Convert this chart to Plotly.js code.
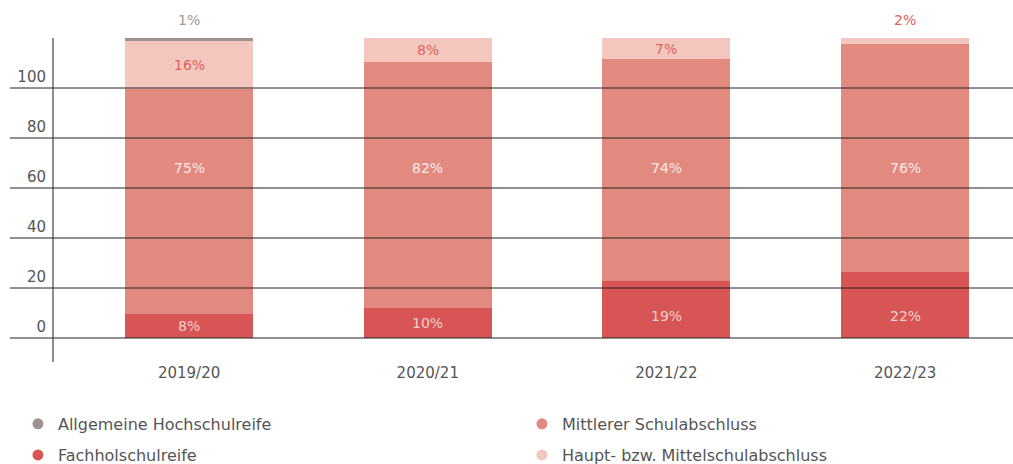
<!DOCTYPE html>
<html>
<head>
<meta charset="utf-8">
<script src="https://cdn.plot.ly/plotly-3.0.1.min.js"></script>
<style>html,body{margin:0;padding:0;background:#fff;}#chart{width:1013px;height:464px;}</style>
</head>
<body>
<div id="chart"></div>
<script>
// ---- data ----
const years = ["2019/20", "2020/21", "2021/22", "2022/23"];
const fachhol   = [9.6, 12.0, 22.8, 26.4];
const mittlerer = [90.0, 98.4, 88.8, 91.2];
const haupt     = [19.2, 9.6, 8.4, 2.4];
const allgemein = [1.2, 0, 0, 0];
const fachholPct   = ["8%", "10%", "19%", "22%"];
const mittlererPct = ["75%", "82%", "74%", "76%"];
const hauptPct     = ["16%", "8%", "7%", "2%"];
const allgemeinPct = ["1%", "", "", ""];
const yTicks = [0, 20, 40, 60, 80, 100];

// ---- styles ----
const FONT = "DejaVu Sans, sans-serif";
const TXT = "#555555";
const C = {
  allg: "#a0938f",
  mitt: "#e38a80",
  fach: "#d75555",
  haupt: "#f3c7be"
};

const barBase = {type: "bar", x: years, hoverinfo: "skip", showlegend: false, marker: {line: {width: 0}}};
const traces = [
  Object.assign({}, barBase, {name: "Fachholschulreife", y: fachhol, marker: {color: C.fach}}),
  Object.assign({}, barBase, {name: "Mittlerer Schulabschluss", y: mittlerer, marker: {color: C.mitt}}),
  Object.assign({}, barBase, {name: "Haupt- bzw. Mittelschulabschluss", y: haupt, marker: {color: C.haupt}}),
  Object.assign({}, barBase, {name: "Allgemeine Hochschulreife", y: allgemein, marker: {color: C.allg}})
];

// legend-only traces (circle markers)
function legendTrace(name, color, legend) {
  return {type: "scatter", mode: "markers", x: [null], y: [null], name: name,
          marker: {color: color, size: 11, symbol: "circle"}, legend: legend, showlegend: true, hoverinfo: "skip"};
}
traces.push(legendTrace("Allgemeine Hochschulreife", C.allg, "legend"));
traces.push(legendTrace("Mittlerer Schulabschluss", C.mitt, "legend"));
traces.push(legendTrace("Fachholschulreife", C.fach, "legend2"));
traces.push(legendTrace("Haupt- bzw. Mittelschulabschluss", C.haupt, "legend2"));

// ---- value labels ----
const annotations = [];
function lab(x, y, text, color, yshift) {
  annotations.push({xref: "x", yref: "y", x: x, y: y, text: text, showarrow: false,
    yshift: yshift || 0, font: {family: FONT, size: 14, color: color}});
}
years.forEach((yr, i) => {
  const f = fachhol[i], m = mittlerer[i], h = haupt[i], a = allgemein[i];
  const total = f + m + h + a;
  lab(yr, Math.min(f / 2, 8.8), fachholPct[i], "#f6d0c9");
  lab(yr, 68.2, mittlererPct[i], "#fbebe7");
  if (h >= 4) lab(yr, f + m + h / 2, hauptPct[i], "#e0625c");
  else lab(yr, total, hauptPct[i], "#e0625c", 18);
  if (a > 0) lab(yr, total, allgemeinPct[i], "#a39a97", 18);
});

// ---- grid lines drawn over the bars, extending left of the axis ----
const shapes = yTicks.map(v => ({type: "line", xref: "paper", yref: "y", x0: -0.0459, x1: 1, y0: v, y1: v,
  line: {color: "#222222", width: 1}, layer: "above"}));

const legendBase = {orientation: "h", x: -0.0376, xanchor: "left", yanchor: "middle",
  entrywidth: 459, entrywidthmode: "pixels", traceorder: "normal",
  font: {family: FONT, size: 16, color: TXT},
  bgcolor: "rgba(0,0,0,0)", borderwidth: 0, itemclick: false, itemdoubleclick: false};

const layout = {
  width: 1013, height: 464,
  margin: {l: 54, r: 0, t: 38, b: 102, pad: 0, autoexpand: false},
  paper_bgcolor: "#ffffff", plot_bgcolor: "#ffffff",
  barmode: "stack", bargap: 0.464,
  font: {family: FONT, size: 15, color: TXT},
  xaxis: {type: "category", range: [-0.566, 3.452], showgrid: false, zeroline: false, showline: false,
          ticks: "", tickfont: {family: FONT, size: 15, color: TXT}, fixedrange: true, automargin: false},
  yaxis: {range: [-9.6, 120], tickvals: yTicks, showgrid: false, zeroline: false,
          showline: true, linecolor: "#8e8e8e", linewidth: 2, ticks: "",
          ticklabelshift: -11, ticklabelstandoff: 3, automargin: false,
          tickfont: {family: FONT, size: 15, color: TXT}, fixedrange: true},
  legend: Object.assign({}, legendBase, {y: -0.191}),
  legend2: Object.assign({}, legendBase, {y: -0.287}),
  shapes: shapes,
  annotations: annotations,
  showlegend: true
};

Plotly.newPlot("chart", traces, layout, {displayModeBar: false, staticPlot: true});
</script>
</body>
</html>
